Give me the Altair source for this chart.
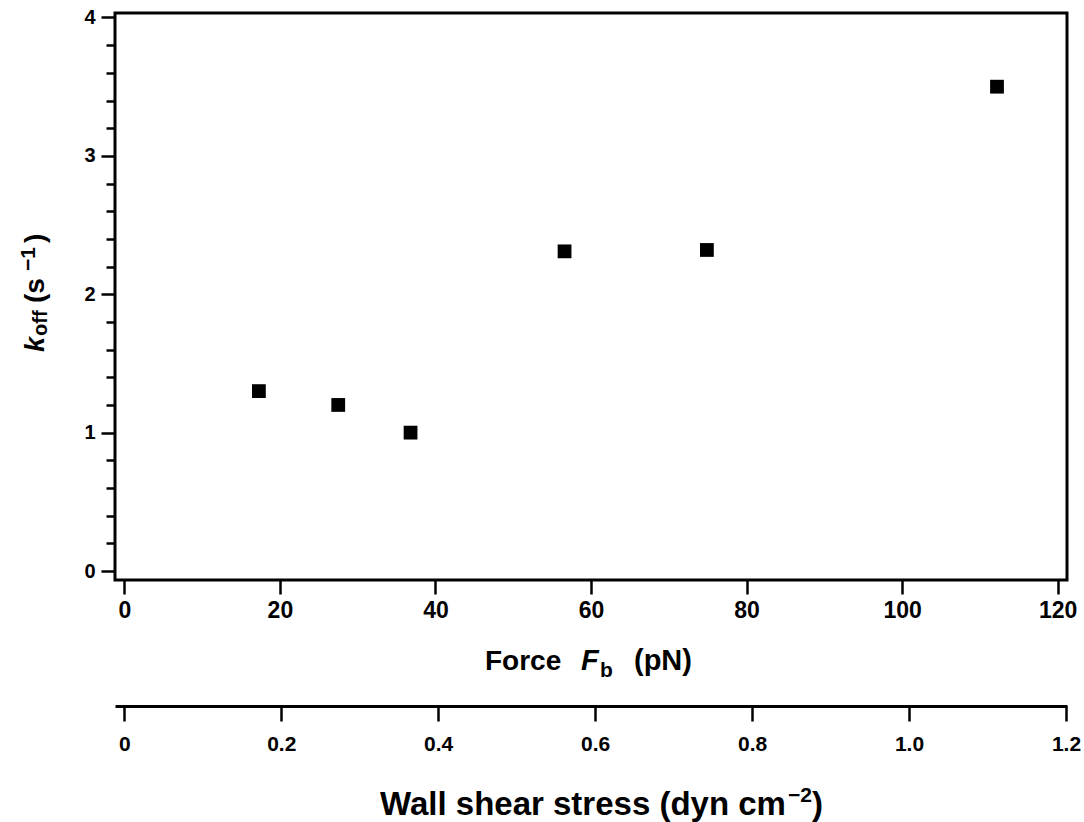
import altair as alt
import pandas as pd

# ---- data ----
force = [17.3, 27.5, 36.8, 56.6, 74.9, 112.2]          # Force F_b (pN)
koff = [1.30, 1.20, 1.00, 2.31, 2.32, 3.50]            # k_off (s^-1)

force_ticks = [0, 20, 40, 60, 80, 100, 120]
koff_major = [0, 1, 2, 3, 4]
koff_minor = [0.2, 0.4, 0.6, 0.8, 1.2, 1.4, 1.6, 1.8, 2.2, 2.4, 2.6, 2.8,
              3.2, 3.4, 3.6, 3.8]
shear_ticks = [0, 0.2, 0.4, 0.6, 0.8, 1.0, 1.2]
shear_ends = [0, 1.2]

xtitle_parts = ["Force", "F", "b", "(pN)"]
ytitle_parts = ["k", "off", "(s", "\u22121", ")"]
stitle_parts = ["Wall shear stress (dyn cm", "\u22122", ")"]

FONT = "Liberation Sans, Arial, Helvetica, sans-serif"
NARROW = "Liberation Sans Narrow, Arial Narrow, Liberation Sans, sans-serif"

df = pd.DataFrame({"force": force, "koff": koff})

x_scale = alt.Scale(domain=[-1.2, 121.2], nice=False, zero=False)
y_scale = alt.Scale(domain=[-0.065, 4.0325], nice=False, zero=False)

x_axis = alt.Axis(values=force_ticks, title=None, orient="bottom", domain=False,
                  grid=False, tickSize=14, tickWidth=2.5, tickColor="black",
                  labelFont=NARROW, labelFontSize=23, labelFontWeight="bold",
                  labelColor="black", labelPadding=5, labelFlush=False,
                  format="d")

points = alt.Chart(df).mark_square(size=190, color="black", opacity=1).encode(
    x=alt.X("force:Q", scale=x_scale, axis=x_axis),
    y=alt.Y("koff:Q", scale=y_scale,
            axis=alt.Axis(values=koff_major, title=None, orient="left",
                          domain=False, grid=False, tickSize=14, tickWidth=2.5,
                          tickColor="black", labelFont=FONT, labelFontSize=20,
                          labelFontWeight="bold", labelColor="black",
                          labelPadding=6, labelFlush=False, format="d")),
)

minor = alt.Chart(df).mark_point(opacity=0).encode(
    x=alt.X("force:Q", scale=x_scale, axis=x_axis),
    y=alt.Y("koff:Q", scale=y_scale,
            axis=alt.Axis(values=koff_minor, title=None, orient="left",
                          domain=False, grid=False, labels=False, tickSize=9,
                          tickWidth=2.5, tickColor="black")),
)

inner = alt.layer(points, minor).resolve_axis(y="independent")

shear = alt.Chart(pd.DataFrame({"s": shear_ends})).mark_point(opacity=0).encode(
    x=alt.X("s:Q", scale=alt.Scale(domain=[-0.01185, 1.2013], nice=False, zero=False),
            axis=alt.Axis(values=shear_ticks, title=None, orient="bottom", offset=126,
                          domain=True, domainWidth=3, domainColor="black",
                          grid=False, tickSize=15, tickWidth=2.5, tickColor="black",
                          labelFont=FONT, labelFontSize=21, labelFontWeight="bold",
                          labelColor="black", labelPadding=12, labelFlush=False,
                          labelExpr="datum.value === 0 ? '0' : format(datum.value, '.1f')")),
    y=alt.value(0),
)


def txt(s, x, y, size, angle=0, style="normal"):
    return alt.Chart(pd.DataFrame({"t": [s]})).mark_text(
        align="left", baseline="alphabetic", font=FONT, fontSize=size,
        fontWeight="bold", fontStyle=style, angle=angle, color="black",
    ).encode(text="t:N", x=alt.value(x), y=alt.value(y))


texts = [
    # x title
    txt(xtitle_parts[0], 370, 657, 28),
    txt(xtitle_parts[1], 466, 657, 29, style="italic"),
    txt(xtitle_parts[2], 485, 664, 21),
    txt(xtitle_parts[3], 519, 657, 29),
    # y title (rotated)
    txt(ytitle_parts[0], -71, 339, 27, angle=270, style="italic"),
    txt(ytitle_parts[1], -68, 323, 20, angle=270),
    txt(ytitle_parts[2], -71, 290, 28, angle=270),
    txt(ytitle_parts[3], -80, 258, 21, angle=270),
    txt(ytitle_parts[4], -71, 230, 28, angle=270),
    # shear title
    txt(stitle_parts[0], 265, 802, 33),
    txt(stitle_parts[1], 673, 789, 21),
    txt(stitle_parts[2], 697, 802, 33),
]

chart = alt.layer(inner, shear, *texts).resolve_scale(x="independent").properties(
    width=952, height=567,
    autosize=alt.AutoSizeParams(type="none"),
    padding={"left": 115, "top": 13, "right": 17, "bottom": 242},
    background="white",
).configure_view(stroke="black", strokeWidth=3).configure_axis(
    labelFontSize=22, labelFontWeight="bold", labelColor="black"
)

chart.save("out.html", embed_options={"renderer": "svg", "actions": False})
